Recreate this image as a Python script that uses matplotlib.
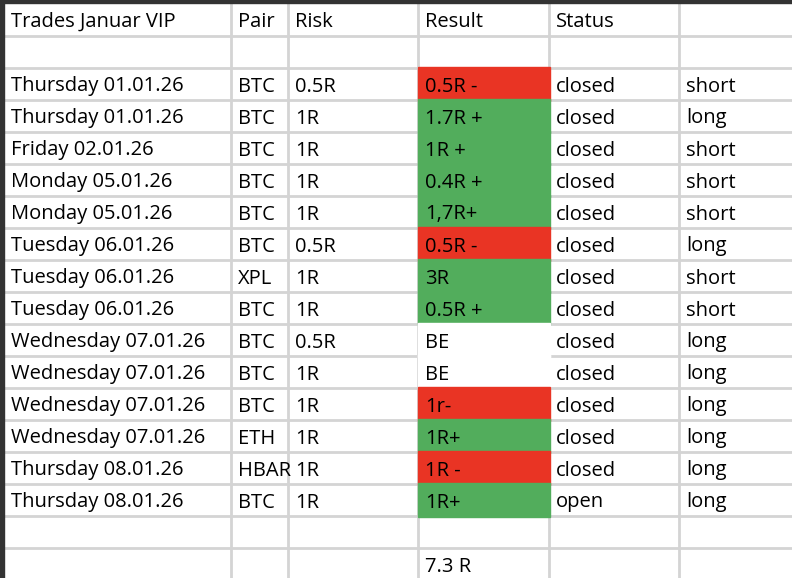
import matplotlib
matplotlib.use("Agg")
import matplotlib.pyplot as plt
from matplotlib.patches import Rectangle

headers = ["Trades Januar VIP", "Pair", "Risk", "Result", "Status", ""]
dates = ["Thursday 01.01.26", "Thursday 01.01.26", "Friday 02.01.26", "Monday 05.01.26",
         "Monday 05.01.26", "Tuesday 06.01.26", "Tuesday 06.01.26", "Tuesday 06.01.26",
         "Wednesday 07.01.26", "Wednesday 07.01.26", "Wednesday 07.01.26", "Wednesday 07.01.26",
         "Thursday 08.01.26", "Thursday 08.01.26"]
pairs = ["BTC", "BTC", "BTC", "BTC", "BTC", "BTC", "XPL", "BTC", "BTC", "BTC", "BTC", "ETH", "HBAR", "BTC"]
risks = ["0.5R", "1R", "1R", "1R", "1R", "0.5R", "1R", "1R", "0.5R", "1R", "1R", "1R", "1R", "1R"]
results = ["0.5R -", "1.7R +", "1R +", "0.4R +", "1,7R+", "0.5R -", "3R", "0.5R +", "BE", "BE",
           "1r-", "1R+", "1R -", "1R+"]
outcome = ["loss", "win", "win", "win", "win", "loss", "win", "win", "be", "be", "loss", "win", "loss", "win"]
statuses = ["closed"] * 13 + ["open"]
sides = ["short", "long", "short", "short", "short", "long", "short", "short", "long", "long",
         "long", "long", "long", "long"]
total = "7.3 R"

W, H = 792, 578
fig = plt.figure(figsize=(W / 100, H / 100), dpi=100)
ax = fig.add_axes([0, 0, 1, 1])
ax.set_xlim(0, W)
ax.set_ylim(H, 0)
ax.axis("off")

col_x = [4, 231, 288, 418, 549, 679, 792]
row_y = [3, 36, 68] + [68 + 32 * (i + 1) for i in range(len(dates))] + [548, 580]
grid = "#d4d4d4"
for x in col_x[1:-1]:
    ax.plot([x, x], [0, H], color=grid, lw=2, zorder=1)
for y in row_y[1:]:
    ax.plot([0, W], [y, y], color=grid, lw=2, zorder=1)
ax.add_patch(Rectangle((0, 0), W, 3, color="#333333", zorder=5))
ax.add_patch(Rectangle((0, 0), 4, H, color="#333333", zorder=5))

colors = {"loss": "#e93424", "win": "#52ad5c", "be": "white"}
font = dict(family=["Open Sans", "DejaVu Sans"], fontsize=14.5, color="black", va="center", zorder=4)

def put(col, yc, s):
    return ax.text(col_x[col] + 7, yc, s, **font)

for c, h in enumerate(headers):
    put(c, (row_y[0] + row_y[1]) / 2 + 2.5, h)

for i in range(len(dates)):
    top = 68 + 32 * i
    yc = top + 18.5
    ax.add_patch(Rectangle((col_x[3], top - 1), col_x[4] - col_x[3] + 1, 34,
                           color=colors[outcome[i]], zorder=2))
    put(0, yc, dates[i])
    t = put(1, yc, pairs[i])
    clip = Rectangle((col_x[1], top), col_x[2] - col_x[1] - 1, 32, transform=ax.transData,
                     fill=False, visible=False)
    ax.add_patch(clip)
    t.set_clip_path(clip)
    put(2, yc, risks[i])
    put(3, yc, results[i])
    put(4, yc, statuses[i])
    put(5, yc, sides[i])

put(3, 548 + 18.5, total)

fig.savefig("out.png", dpi=100)
